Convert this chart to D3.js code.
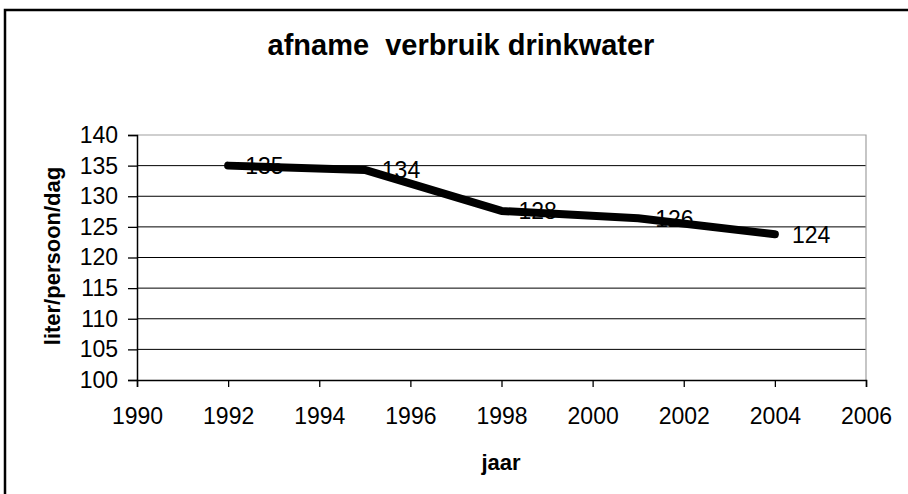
<!DOCTYPE html>
<html>
<head>
<meta charset="utf-8">
<script src="https://cdn.jsdelivr.net/npm/d3@7"></script>
<style>
  body { margin: 0; background: #fff; }
  text { font-family: "Liberation Sans", Arial, sans-serif; }
</style>
</head>
<body>
<svg id="chart" width="908" height="494"></svg>
<script>
// data
const years = [1992, 1995, 1998, 2001, 2004]
const liters = [135, 134.3, 127.6, 126.4, 123.8]
const labels = ["135", "134", "128", "126", "124"]
const yTicks = [100, 105, 110, 115, 120, 125, 130, 135, 140]
const xTicks = [1990, 1992, 1994, 1996, 1998, 2000, 2002, 2004, 2006]

const svg = d3.select('#chart')
const plotLeft = 137, plotRight = 866, plotTop = 135, plotBottom = 380
const font = '"Liberation Sans", Arial, sans-serif'

const x = d3.scaleLinear().domain([1990, 2006]).range([plotLeft, plotRight])
const y = d3.scaleLinear().domain([100, 140]).range([plotBottom, plotTop])

// outer frame
svg.append('rect')
    .attr('x', 5).attr('y', 10)
    .attr('width', 920).attr('height', 500)
    .attr('fill', 'white')
    .attr('stroke', 'black')
    .attr('stroke-width', 2.5)

svg.append('text')
    .attr('x', 461).attr('y', 55)
    .attr('text-anchor', 'middle')
    .attr('font-size', 29).attr('font-weight', 'bold')
    .style('white-space', 'pre')
    .text('afname  verbruik drinkwater')

// gridlines
svg.append('g')
    .selectAll('line')
    .data(yTicks.filter(d => d > 100 && d < 140))
    .enter().append('line')
    .attr('x1', plotLeft).attr('x2', plotRight)
    .attr('y1', d => y(d)).attr('y2', d => y(d))
    .attr('stroke', 'black').attr('stroke-width', 1)

// plot area top/right border (gray)
svg.append('path')
    .attr('d', `M${plotLeft},${plotTop}H${plotRight}V${plotBottom}`)
    .attr('fill', 'none')
    .attr('stroke', '#a0a0a0').attr('stroke-width', 1.2)

const yAxis = svg.append('g')
    .attr('transform', `translate(${plotLeft},0)`)
    .call(d3.axisLeft(y).tickValues(yTicks).tickSize(9).tickPadding(10))
yAxis.select('.domain').attr('stroke-width', 1.5)
yAxis.selectAll('.tick line').attr('stroke-width', 1.3)
yAxis.selectAll('text').attr('font-size', 23).attr('fill', 'black')
    .style('font-family', font)

const xAxis = svg.append('g')
    .attr('transform', `translate(0,${plotBottom})`)
    .call(d3.axisBottom(x).tickValues(xTicks).tickFormat(d3.format('d')).tickSize(7).tickPadding(21))
xAxis.select('.domain').attr('stroke-width', 1.5)
xAxis.selectAll('.tick line').attr('stroke-width', 1.3)
xAxis.selectAll('text').attr('font-size', 23).attr('fill', 'black')
    .style('font-family', font)

svg.append('text')
    .attr('transform', 'translate(60,256) rotate(-90)')
    .attr('text-anchor', 'middle')
    .attr('font-size', 22).attr('font-weight', 'bold')
    .text('liter/persoon/dag')

svg.append('text')
    .attr('x', 501).attr('y', 470)
    .attr('text-anchor', 'middle')
    .attr('font-size', 22).attr('font-weight', 'bold')
    .text('jaar')

const pts = years.map((d, i) => [d, liters[i]])
const line = d3.line().x(d => x(d[0])).y(d => y(d[1]))

svg.append('path')
    .datum(pts)
    .attr('d', line)
    .attr('fill', 'none')
    .attr('stroke', 'black')
    .attr('stroke-width', 8)
    .attr('stroke-linecap', 'round')
    .attr('stroke-linejoin', 'round')

svg.append('g')
    .selectAll('text')
    .data(pts)
    .enter().append('text')
    .attr('x', d => x(d[0]) + 17)
    .attr('y', d => y(d[1]) + 8.5)
    .attr('font-size', 23)
    .text((d, i) => labels[i])
</script>
</body>
</html>
